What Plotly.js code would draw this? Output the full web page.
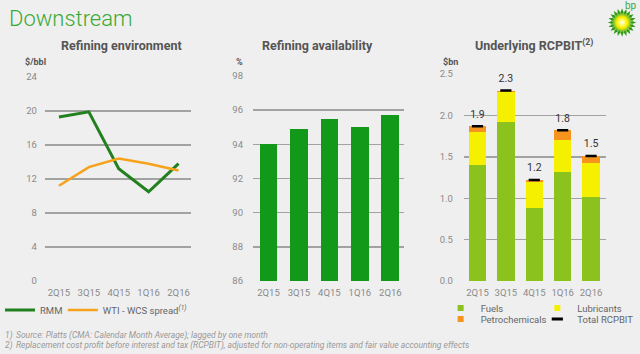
<!DOCTYPE html>
<html>
<head>
<meta charset="utf-8">
<script src="https://cdn.plot.ly/plotly-3.0.1.min.js"></script>
<style>html,body{margin:0;padding:0;background:#efefef;}#chart{width:640px;height:354px;}</style>
</head>
<body>
<div id="chart"></div>
<script>
// ---- data ----
const quarters = ['2Q15', '3Q15', '4Q15', '1Q16', '2Q16'];
const rmm = [19.3, 19.9, 13.2, 10.5, 13.8];
const wtiWcsSpread = [11.2, 13.4, 14.4, 13.8, 13.0];
const availability = [94.0, 94.9, 95.5, 95.0, 95.7];
const fuels = [1.40, 1.92, 0.88, 1.32, 1.01];
const lubricants = [0.40, 0.36, 0.31, 0.38, 0.41];
const petrochemicals = [0.07, 0.02, 0.03, 0.12, 0.09];
const totalRcpbit = [1.87, 2.30, 1.22, 1.82, 1.51];
const totalLabels = ['1.9', '2.3', '1.2', '1.8', '1.5'];
const leftTicks = [0, 4, 8, 12, 16, 20, 24];
const midTicks = [86, 88, 90, 92, 94, 96, 98];
const rightTicks = [0, 0.5, 1.0, 1.5, 2.0, 2.5];
const rightTickText = ['0.0', '0.5', '1.0', '1.5', '2.0', '2.5'];

// ---- helpers (pixel -> paper) ----
const W = 640, H = 354;
const px = x => x / W;
const py = y => 1 - y / H;

const FONT = 'Roboto, "Liberation Sans", Arial, sans-serif';
const tickFont = {family: FONT, size: 9.5, color: '#8a8a8a'};
const gridColor = '#a2a2a2';

const C = {
  rmm: '#23801f', wti: '#f7a21b', avail: '#13991a',
  fuels: '#8cc21e', lub: '#f5f000', petro: '#f7941d', total: '#000000'
};

const traces = [
  {x: quarters, y: rmm, name: 'RMM', type: 'scatter', mode: 'lines',
   line: {color: C.rmm, width: 3}, xaxis: 'x', yaxis: 'y', legend: 'legend'},
  {x: quarters, y: wtiWcsSpread, name: 'WTI - WCS spread<sup><i>(1)</i></sup>', type: 'scatter', mode: 'lines',
   line: {color: C.wti, width: 2.5}, xaxis: 'x', yaxis: 'y', legend: 'legend2'},
  {x: quarters, y: availability, name: 'Refining availability', type: 'bar', width: 0.58,
   marker: {color: C.avail}, xaxis: 'x2', yaxis: 'y2', showlegend: false},
  {x: quarters, y: fuels, name: 'Fuels', type: 'bar', width: 0.61,
   marker: {color: C.fuels}, xaxis: 'x3', yaxis: 'y3', showlegend: false},
  {x: quarters, y: lubricants, name: 'Lubricants', type: 'bar', width: 0.61,
   marker: {color: C.lub}, xaxis: 'x3', yaxis: 'y3', showlegend: false},
  {x: quarters, y: petrochemicals, name: 'Petrochemicals', type: 'bar', width: 0.61,
   marker: {color: C.petro}, xaxis: 'x3', yaxis: 'y3', showlegend: false},
  {x: quarters, y: totalRcpbit, name: 'Total RCPBIT', type: 'scatter', mode: 'markers+text',
   text: totalLabels, textposition: 'top center', textfont: {family: FONT, size: 10.5, color: '#333'},
   marker: {symbol: 'line-ew', size: 8, line: {color: C.total, width: 2.5}, color: C.total},
   xaxis: 'x3', yaxis: 'y3', showlegend: false},
  // legend entries (small square swatches like the original)
  {x: [null], y: [null], name: 'Fuels', type: 'scatter', mode: 'markers',
   marker: {symbol: 'square', size: 6, color: C.fuels}, xaxis: 'x3', yaxis: 'y3', legend: 'legend3'},
  {x: [null], y: [null], name: 'Lubricants', type: 'scatter', mode: 'markers',
   marker: {symbol: 'square', size: 6, color: C.lub}, xaxis: 'x3', yaxis: 'y3', legend: 'legend4'},
  {x: [null], y: [null], name: 'Petrochemicals', type: 'scatter', mode: 'markers',
   marker: {symbol: 'square', size: 6, color: C.petro}, xaxis: 'x3', yaxis: 'y3', legend: 'legend5'},
  {x: [null], y: [null], name: 'Total RCPBIT', type: 'scatter', mode: 'markers',
   marker: {symbol: 'line-ew', size: 8, line: {color: C.total, width: 3}}, xaxis: 'x3', yaxis: 'y3', legend: 'legend6'}
];

function xAxis(domain, range) {
  return {domain: domain, range: range, type: 'category', showgrid: false, zeroline: false,
    showline: false, ticks: 'outside', ticklen: 3, tickcolor: 'rgba(0,0,0,0)',
    tickfont: tickFont, fixedrange: true};
}
function yAxis(domain, range, tickvals, ticktext, ticklen, anchor) {
  return {domain: domain, range: range, tickvals: tickvals, ticktext: ticktext,
    showgrid: true, gridcolor: gridColor, gridwidth: 1.4, zeroline: false, showline: false,
    ticks: 'outside', ticklen: ticklen, tickcolor: 'rgba(0,0,0,0)', tickfont: tickFont,
    anchor: anchor, fixedrange: true};
}
function leg(x, y) {
  return {x: px(x), y: py(y), xanchor: 'left', yanchor: 'middle', orientation: 'v',
    bgcolor: 'rgba(0,0,0,0)', borderwidth: 0, itemwidth: 30,
    font: {family: FONT, size: 9.5, color: '#666'}};
}
function ann(text, x, y, opts) {
  return Object.assign({text: text, x: px(x), y: py(y), xref: 'paper', yref: 'paper',
    showarrow: false, xanchor: 'center', yanchor: 'middle'}, opts || {});
}

const logoSvg = (function () {
  let outer = '', inner = '';
  const n = 20;
  for (let i = 0; i < n * 2; i++) {
    const a = Math.PI * i / n;
    const r1 = i % 2 === 0 ? 19 : 13.5;
    const r2 = i % 2 === 0 ? 15 : 11;
    outer += (r1 * Math.cos(a)).toFixed(2) + ',' + (r1 * Math.sin(a)).toFixed(2) + ' ';
    const b = a + Math.PI / n;
    inner += (r2 * Math.cos(b)).toFixed(2) + ',' + (r2 * Math.sin(b)).toFixed(2) + ' ';
  }
  const s = "<svg xmlns='http://www.w3.org/2000/svg' viewBox='-20 -20 40 40'>" +
    "<defs><radialGradient id='g'><stop offset='0' stop-color='#ffffff'/><stop offset='0.3' stop-color='#ffff80'/>" +
    "<stop offset='0.7' stop-color='#ffee00'/><stop offset='1' stop-color='#b8d600'/></radialGradient></defs>" +
    "<polygon points='" + outer + "' fill='#2f9a1a'/>" +
    "<polygon points='" + inner + "' fill='#8cc63f'/>" +
    "<circle r='10' fill='url(#g)'/></svg>";
  return 'data:image/svg+xml;charset=utf-8,' + encodeURIComponent(s);
})();

const layout = {
  width: W, height: H,
  margin: {l: 0, r: 0, t: 0, b: 0},
  paper_bgcolor: '#efefef', plot_bgcolor: 'rgba(0,0,0,0)',
  font: {family: FONT, color: '#555'},
  barmode: 'stack',
  hovermode: false,
  title: {text: 'Downstream', x: px(7), xanchor: 'left', xref: 'paper', y: py(18), yref: 'container',
    yanchor: 'middle', font: {family: FONT, size: 22, color: '#3aa935', weight: 300}},
  xaxis: xAxis([px(43), px(190)], [-0.47, 4.43]),
  yaxis: yAxis([py(281), py(77)], [0, 24], leftTicks, leftTicks.map(String), 5, 'x'),
  xaxis2: Object.assign(xAxis([px(251.7), px(403.3)], [-0.51, 4.45]), {anchor: 'y2'}),
  yaxis2: yAxis([py(281), py(76)], [86, 98], midTicks, midTicks.map(String), 7, 'x2'),
  xaxis3: Object.assign(xAxis([px(463.3), px(606)], [-0.48, 4.53]), {anchor: 'y3'}),
  yaxis3: yAxis([py(281), py(74)], [0, 2.5], rightTicks, rightTickText, 8, 'x3'),
  legend: leg(-2, 310),
  legend2: leg(61, 310),
  legend3: leg(440, 308),
  legend4: leg(537, 308),
  legend5: leg(440, 319),
  legend6: leg(537, 319),
  images: [{source: logoSvg, xref: 'paper', yref: 'paper', x: px(607), y: py(7.5),
    sizex: 30 / W, sizey: 30 / H, sizing: 'contain', xanchor: 'left', yanchor: 'top', layer: 'above'}],
  annotations: [
    ann('bp', 631, 6, {font: {family: FONT, size: 10, color: '#3aa935'}}),
    ann('<b>Refining environment</b>', 120, 45, {font: {family: FONT, size: 12.5, color: '#555'}}),
    ann('<b>Refining availability</b>', 316, 45, {font: {family: FONT, size: 12.5, color: '#555'}}),
    ann('<b>Underlying RCPBIT<sup>(2)</sup></b>', 534, 45, {font: {family: FONT, size: 12.5, color: '#555'}}),
    ann('<b>$/bbl</b>', 21, 62, {xanchor: 'left', font: {family: FONT, size: 9, color: '#555'}}),
    ann('<b>%</b>', 233, 62, {xanchor: 'left', font: {family: FONT, size: 9, color: '#555'}}),
    ann('<b>$bn</b>', 440, 62, {xanchor: 'left', font: {family: FONT, size: 9, color: '#555'}}),
    ann('<i>1)</i>', 1, 335, {xanchor: 'left', font: {family: FONT, size: 8.5, color: '#999'}}),
    ann('<i>Source: Platts (CMA: Calendar Month Average); lagged by one month</i>', 12, 335,
      {xanchor: 'left', font: {family: FONT, size: 8.5, color: '#999'}}),
    ann('<i>2)</i>', 1, 345, {xanchor: 'left', font: {family: FONT, size: 8.5, color: '#999'}}),
    ann('<i>Replacement cost profit before interest and tax (RCPBIT), adjusted for non-operating items and fair value accounting effects</i>', 12, 345,
      {xanchor: 'left', font: {family: FONT, size: 8.5, color: '#999'}})
  ]
};

Plotly.newPlot('chart', traces, layout, {staticPlot: true, displayModeBar: false});
</script>
</body>
</html>
